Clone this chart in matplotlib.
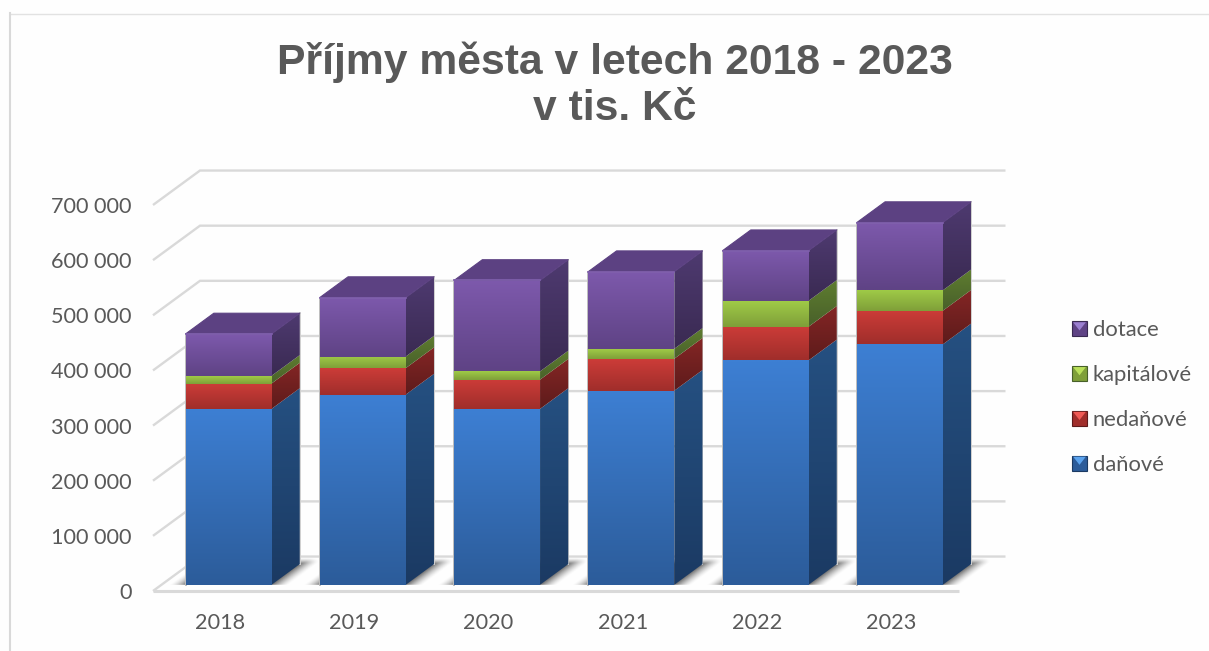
import numpy as np
import matplotlib
matplotlib.use("Agg")
import matplotlib.pyplot as plt
from matplotlib.patches import Polygon, Patch
from matplotlib.lines import Line2D
from matplotlib.legend_handler import HandlerBase
from matplotlib.ticker import FuncFormatter
from matplotlib.colors import to_rgb

years = ["2018", "2019", "2020", "2021", "2022", "2023"]
danove = [319000, 345000, 319000, 352000, 407000, 436000]
nedanove = [46000, 48000, 53000, 58000, 61000, 61000]
kapitalove = [14000, 21000, 15000, 18000, 47000, 37000]
dotace = [76000, 107000, 165000, 140000, 91000, 123000]
series_names = ["daňové", "nedaňové", "kapitálové", "dotace"]
series_values = [danove, nedanove, kapitalove, dotace]
title_text = "Příjmy města v letech 2018 - 2023\nv tis. Kč"

# (front top, front bottom, side top, side bottom)
shades = [
    ("#3D7FD3", "#2C5C9A", "#255081", "#1B3A63"),
    ("#CC3C38", "#A02E2B", "#842625", "#5E1B1B"),
    ("#9FCA47", "#7F9F39", "#5F7D30", "#48602A"),
    ("#7D59AC", "#5F4385", "#4E3A70", "#3A2A52"),
]
legend_light = ["#5BA3EE", "#F05A55", "#B9E05A", "#9B7FD0"]
top_face = "#5C4182"
TXT = "#595959"
GRID = "#D9D9D9"

W, H = 1209, 651
fig = plt.figure(figsize=(W / 100, H / 100), dpi=100, facecolor="#FEFEFE")
ax = fig.add_axes([153 / W, (H - 591) / H, (958.5 - 153) / W, (591 - 205) / H])
ax.set_xlim(-0.5, 5.5)
ax.set_ylim(0, 700000)
ax.patch.set_visible(False)
for s in ax.spines.values():
    s.set_visible(False)

DX, DY = 0.35, 62500        # screen shift for the full depth of the box
BAR_W = 0.64
D_FRONT, D_BACK = 0.18, 0.78


def proj(x, v, d):
    return x + d * DX, v + d * DY


def grad_poly(pts, c_top, c_bot, z):
    pts = np.array(pts)
    poly = Polygon(pts, closed=True, facecolor="none", edgecolor="none",
                   transform=ax.transData, clip_on=False)
    ax.add_patch(poly)
    t = np.linspace(0, 1, 64)[:, None]
    rgb = (1 - t) * np.array(to_rgb(c_top)) + t * np.array(to_rgb(c_bot))
    im = ax.imshow(rgb[:, None, :],
                   extent=[pts[:, 0].min(), pts[:, 0].max(), pts[:, 1].min(), pts[:, 1].max()],
                   aspect="auto", origin="upper", zorder=z, interpolation="bilinear")
    im.set_clip_box(fig.bbox)
    im.set_clip_path(poly)
    return im


# walls / grid
for v in range(0, 700001, 100000):
    x0, y0 = proj(-0.5, v, 0)
    x1, y1 = proj(-0.5, v, 1)
    x2, y2 = proj(5.5, v, 1)
    ax.plot([x0, x1, x2], [y0, y1, y2], color=GRID, lw=1.7, zorder=1,
            clip_on=False, solid_capstyle="butt", solid_joinstyle="miter")
ax.plot([-0.5, 5.5], [0, 0], color=GRID, lw=2.2, zorder=1.2, clip_on=False,
        solid_capstyle="butt")

# floor shadows
xs = np.linspace(-0.5, 5.9, 1300)
ds = np.linspace(D_FRONT, 1.0, 70)
XX, DD = np.meshgrid(xs, ds)
UU = XX - DD * DX
alpha = np.zeros_like(UU)
for i in range(len(years)):
    du = np.maximum(np.abs(UU - i) - BAR_W / 2, 0) / 0.125
    dd = np.maximum(DD - D_BACK, 0) / 0.18
    dist = np.hypot(du, dd)
    alpha = np.maximum(alpha, 0.72 * np.clip(1 - dist, 0, 1) ** 1.5)
img = np.zeros(UU.shape + (4,))
img[..., :3] = 0.25
img[..., 3] = alpha
shadow_im = ax.imshow(img, extent=[xs[0], xs[-1], D_FRONT * DY, DY], origin="lower",
                      aspect="auto", zorder=1.5, interpolation="bilinear")
shadow_poly = Polygon([proj(-0.5, 0, D_FRONT), proj(5.9, 0, D_FRONT), proj(5.9, 0, 1), proj(-0.5, 0, 1)],
                      closed=True, fc="none", ec="none", transform=ax.transData, clip_on=False)
ax.add_patch(shadow_poly)
shadow_im.set_clip_box(fig.bbox)
shadow_im.set_clip_path(shadow_poly)

# stacked 3D bars
for i in range(len(years)):
    base = 0
    xl, xr = i - BAR_W / 2, i + BAR_W / 2
    z = 2 + i * 0.1
    total = sum(vals[i] for vals in series_values)
    # soft halo at the silhouette
    ax.plot(*zip(proj(xl, 0, D_FRONT), proj(xl, total, D_FRONT)), color="#BDBDBD", lw=1.4,
            zorder=z - 0.01, clip_on=False)
    ax.plot(*zip(proj(xr, 0, D_BACK), proj(xr, total, D_BACK)), color="#CFCFCF", lw=1.4,
            zorder=z - 0.01, clip_on=False)
    for k, vals in enumerate(series_values):
        top = base + vals[i]
        ft, fb, st, sb = shades[k]
        grad_poly([proj(xr, base, D_FRONT), proj(xr, base, D_BACK), proj(xr, top, D_BACK), proj(xr, top, D_FRONT)],
                  st, sb, z)
        grad_poly([proj(xl, base, D_FRONT), proj(xr, base, D_FRONT), proj(xr, top, D_FRONT), proj(xl, top, D_FRONT)],
                  ft, fb, z + 0.01)
        base = top
    ax.add_patch(Polygon([proj(xl, total, D_FRONT), proj(xr, total, D_FRONT),
                          proj(xr, total, D_BACK), proj(xl, total, D_BACK)],
                         closed=True, fc=top_face, ec=top_face, lw=0.8, zorder=z + 0.02,
                         joinstyle="round", clip_on=False))
    # bevel highlight
    ax.plot(*zip(proj(xl, total, D_FRONT), proj(xr, total, D_FRONT)), color="#8161AE", lw=1.2,
            zorder=z + 0.03, clip_on=False)

ax.set_xticks(range(len(years)), years)
ax.set_yticks(range(0, 700001, 100000))
ax.yaxis.set_major_formatter(FuncFormatter(lambda v, _: f"{int(v):,}".replace(",", " ")))
ax.tick_params(axis="both", length=0, labelcolor=TXT, labelsize=15.6)
ax.tick_params(axis="x", pad=16)
ax.tick_params(axis="y", pad=15.5)
for lab in ax.get_xticklabels() + ax.get_yticklabels():
    lab.set_family(["Lato", "DejaVu Sans"])
ax.set_xlim(-0.5, 5.5)
ax.set_ylim(0, 700000)


class BevelHandler(HandlerBase):
    def create_artists(self, legend, orig, xd, yd, w, h, fs, trans):
        body, edge, light = orig.shade
        s = 10.8
        x0, y0 = -xd, -yd + (h - s) / 2
        sq = plt.Rectangle((x0, y0), s, s, fc=body, ec=edge, lw=0.8, transform=trans)
        tri = Polygon([(x0 + 0.8, y0 + s - 0.8), (x0 + s - 0.8, y0 + s - 0.8), (x0 + s / 2, y0 + s * 0.38)],
                      closed=True, fc=light, ec="none", transform=trans)
        return [sq, tri]


handles = []
for k in range(3, -1, -1):
    p = Patch(label=series_names[k])
    p.shade = (shades[k][1], shades[k][3], legend_light[k])
    handles.append(p)
leg = ax.legend(handles=handles, frameon=False, handler_map={Patch: BevelHandler()},
                loc="center left", bbox_to_anchor=(1072 / W, (H - 397.5) / H),
                bbox_transform=fig.transFigure, handlelength=0.75, handleheight=0.75,
                handletextpad=0.2, labelspacing=1.13, borderpad=0, borderaxespad=0,
                prop={"family": ["Lato", "DejaVu Sans"], "size": 15.8})
for t in leg.get_texts():
    t.set_color(TXT)

fig.suptitle(title_text, x=614.5 / W, y=1 - 85.5 / H, va="center", ha="center",
             fontsize=30.7, fontweight="bold", color=TXT,
             family=["Liberation Sans", "DejaVu Sans"], linespacing=1.2)

# chart frame
fig.add_artist(Line2D([10 / W, 1], [1 - 13.5 / H] * 2, color="#E2E2E2", lw=1, transform=fig.transFigure))
fig.add_artist(Line2D([10 / W, 10 / W], [0, 1 - 13 / H], color="#D9D9D9", lw=1.5, transform=fig.transFigure))

fig.savefig("out.png", dpi=100, facecolor=fig.get_facecolor())
